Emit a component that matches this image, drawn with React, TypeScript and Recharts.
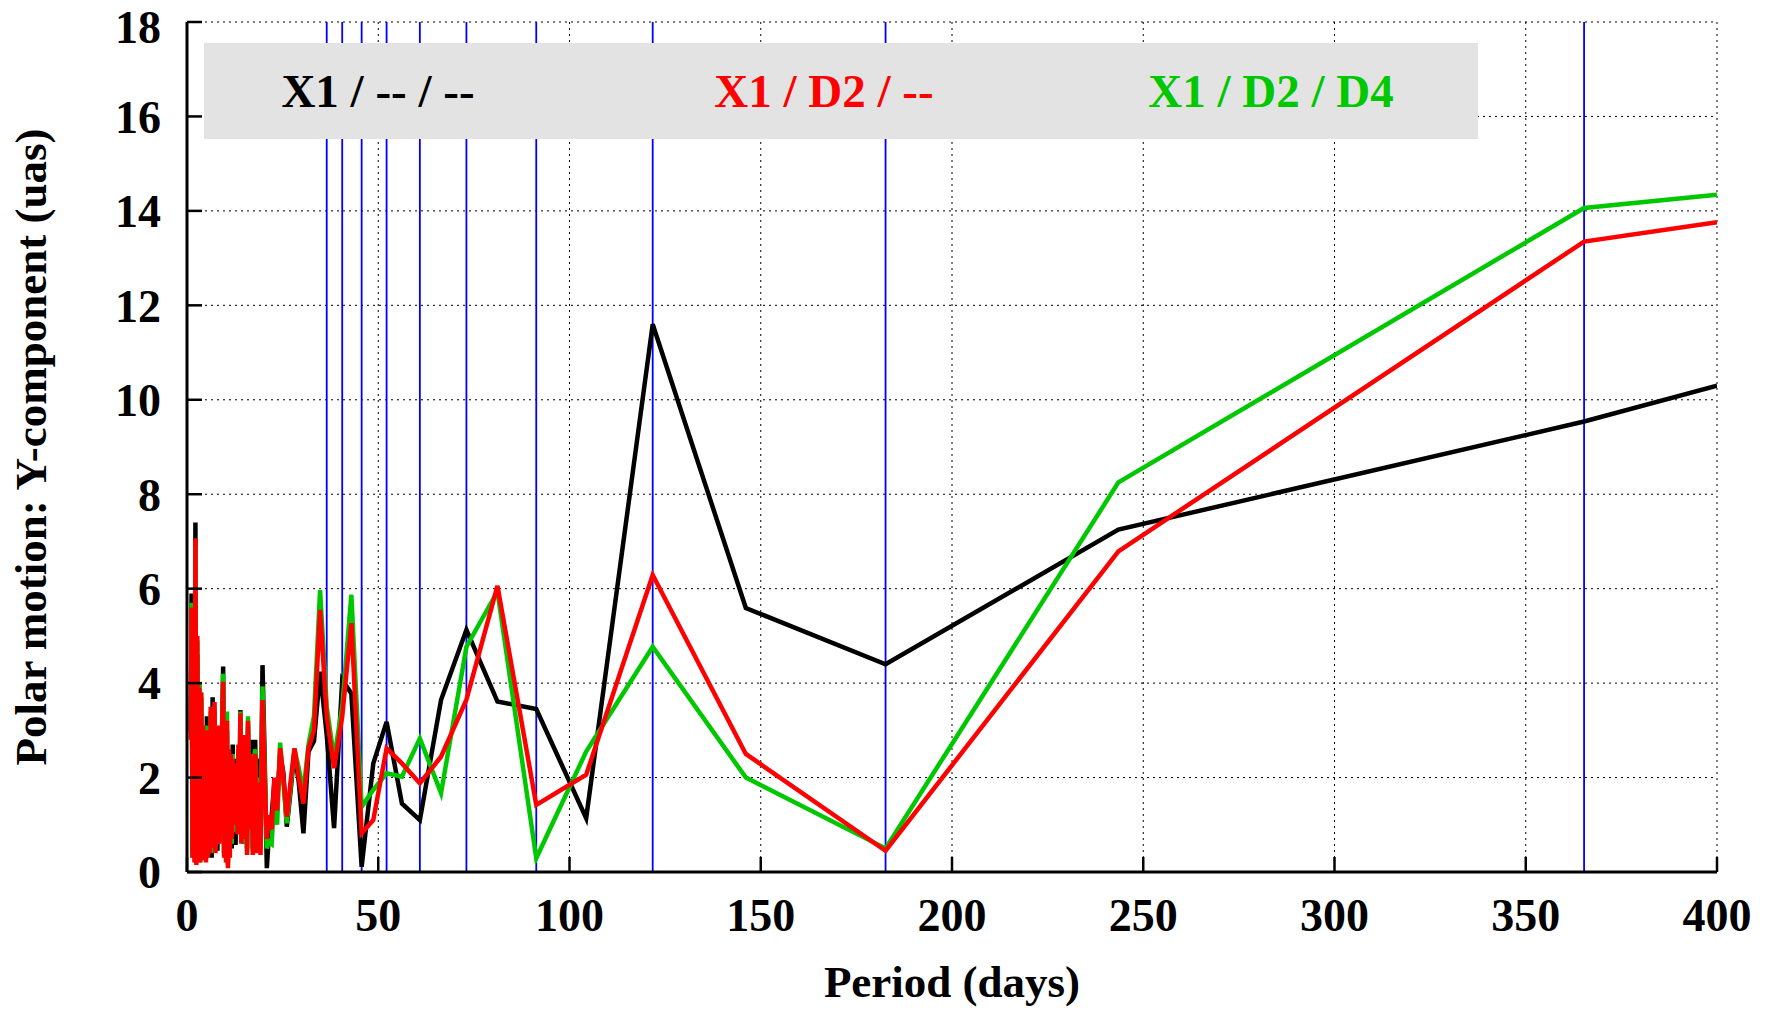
import { CartesianGrid, Label, Legend, Line, LineChart, ReferenceLine, XAxis, YAxis } from "recharts";

// periods (days) of the analysed terms
const periods = [
  1.0, 1.2, 1.45, 1.7, 1.95, 2.2, 2.45, 2.7, 2.95, 3.2, 3.45, 3.7, 3.95, 4.2, 4.45, 4.7, 4.95,
  5.2, 5.45, 5.7, 5.95, 6.2, 6.45, 6.7, 6.95, 7.2, 7.45, 7.7, 7.95, 8.2, 8.45, 8.7, 8.95,
  9.2, 9.45, 9.7, 9.95, 10.2, 10.45, 10.7, 10.95, 11.2, 11.45, 11.7, 11.95, 12.2, 12.45, 12.7, 12.95,
  13.2, 13.45, 13.7, 13.95, 14.2, 14.45, 14.7, 14.95, 15.2, 15.45, 15.7, 15.95, 16.2, 16.45, 16.7, 16.95,
  17.2, 17.45, 17.82, 18.26, 18.73, 19.22, 19.74, 20.29, 20.87, 21.49, 22.14, 22.83, 23.56, 24.35,
  25.19, 26.09, 27.06, 28.1, 29.22, 30.44, 31.76, 33.2, 34.79, 36.53, 38.45, 40.58, 42.97, 45.66,
  48.7, 52.18, 56.19, 60.88, 66.41, 73.05, 81.17, 91.31, 104.36, 121.75, 146.1, 182.63, 243.5, 365.25, 400,
];

// X1 / -- / --
const x1Amp = [
  3.0, 5.9, 0.4, 4.2, 0.3, 7.4, 0.2, 4.6, 0.25, 4.0, 0.3, 3.7, 0.3, 3.0, 0.5, 2.6, 0.3,
  3.3, 0.4, 2.2, 0.6, 3.3, 0.3, 3.7, 0.5, 3.4, 0.6, 2.6, 0.45, 2.9, 0.9, 2.2, 0.7,
  3.0, 4.35, 0.4, 2.4, 0.5, 3.0, 0.2, 2.4, 0.6, 2.2, 0.5, 2.7, 1.1, 2.4, 0.57, 2.0,
  1.0, 2.5, 0.8, 3.43, 0.8, 2.4, 0.6, 2.9, 1.5, 2.5, 0.5, 3.1, 1.4, 2.3, 1.5, 2.8,
  0.5, 2.0, 2.8, 0.6, 2.4, 0.7, 4.38, 2.5, 0.08, 0.9, 1.2, 1.9, 1.5, 2.5,
  2.1, 0.96, 1.7, 2.55, 1.9, 0.82, 2.55, 2.77, 4.24, 2.9, 0.93, 4.07, 3.78, 0.11,
  2.3, 3.18, 1.45, 1.1, 3.64, 5.13, 3.61, 3.45, 1.14, 11.6, 5.59, 4.4, 7.25, 9.54, 10.3,
];

// X1 / D2 / --
const d2Amp = [
  2.8, 5.6, 0.3, 4.0, 0.2, 7.07, 0.15, 5.0, 0.2, 3.9, 0.2, 3.8, 0.25, 3.1, 0.3, 2.8, 0.2,
  3.0, 0.3, 2.5, 0.4, 3.5, 0.5, 3.3, 0.7, 3.6, 0.4, 2.9, 0.7, 3.1, 0.6, 2.5, 0.9,
  3.2, 4.03, 0.3, 2.7, 0.2, 3.2, 0.08, 2.6, 0.3, 2.5, 0.7, 2.4, 1.0, 2.3, 1.0, 2.2,
  0.8, 2.7, 1.0, 3.36, 0.6, 2.6, 0.7, 2.9, 1.2, 2.7, 0.36, 3.2, 1.0, 2.5, 0.9, 2.4,
  0.36, 2.3, 2.5, 0.4, 1.9, 0.36, 3.64, 2.0, 0.7, 1.2, 0.9, 2.0, 1.3, 2.62,
  2.0, 1.17, 1.9, 2.62, 2.0, 1.45, 2.62, 3.0, 5.55, 3.3, 2.2, 3.29, 5.27, 0.82,
  1.1, 2.62, 2.3, 1.88, 2.44, 3.65, 6.06, 1.42, 2.06, 6.29, 2.5, 0.45, 6.79, 13.35, 13.76,
];

// X1 / D2 / D4
const d4Amp = [
  2.9, 5.7, 0.3, 4.1, 0.3, 6.9, 0.2, 4.9, 0.3, 4.0, 0.2, 3.8, 0.3, 3.0, 0.4, 2.7, 0.25,
  3.1, 0.3, 2.4, 0.5, 3.4, 0.4, 3.4, 0.6, 3.5, 0.5, 2.7, 0.6, 3.0, 0.7, 2.4, 0.8,
  3.1, 4.2, 0.35, 2.6, 0.3, 3.4, 0.15, 2.5, 0.5, 2.3, 0.6, 2.5, 1.2, 2.2, 0.85, 2.1,
  0.9, 2.6, 0.9, 3.4, 0.7, 2.5, 0.6, 2.9, 1.3, 2.6, 0.45, 3.3, 1.2, 2.4, 1.0, 2.5,
  0.45, 2.2, 2.6, 0.5, 2.0, 0.5, 3.93, 2.2, 0.5, 0.65, 0.6, 1.6, 1.0, 2.74,
  1.9, 1.03, 1.8, 2.6, 2.2, 1.7, 2.7, 3.3, 5.97, 3.5, 2.4, 3.5, 5.87, 1.38,
  1.74, 2.09, 2.02, 2.83, 1.67, 4.77, 5.94, 0.29, 2.55, 4.77, 2.0, 0.5, 8.25, 14.06, 14.34,
];

// blue markers: annual harmonics
const harmonicPeriods = [365.25, 182.63, 121.75, 91.31, 73.05, 60.88, 52.18, 45.66, 40.58, 36.53];

const xTicks = [0, 50, 100, 150, 200, 250, 300, 350, 400];
const yTicks = [0, 2, 4, 6, 8, 10, 12, 14, 16, 18];

const series = [
  { key: "x1", name: "X1 / -- / --", color: "#000000" },
  { key: "d2", name: "X1 / D2 / --", color: "#ff0000" },
  { key: "d4", name: "X1 / D2 / D4", color: "#00c800" },
];

const data = periods.map((p, i) => ({ period: p, x1: x1Amp[i], d2: d2Amp[i], d4: d4Amp[i] }));

const font = "'Liberation Serif', 'Times New Roman', serif";
const tickStyle = { fill: "#000", fontSize: 46, fontWeight: "bold", fontFamily: font };

// y tick label; the top one is nudged so it stays inside the page
function YTick({ x, y, payload }: any) {
  const ty = Math.max(y, 27);
  return (
    <text x={x} y={ty} dy="0.355em" textAnchor="end" fontSize={46} fontWeight="bold" fontFamily={font} fill="#000">
      {payload.value}
    </text>
  );
}

function XTitle({ viewBox }: any) {
  const x = viewBox.x + viewBox.width / 2;
  const y = viewBox.y + 125;
  return (
    <text x={x} y={y} textAnchor="middle" fontSize={45} fontWeight="bold" fontFamily={font} fill="#000">
      Period (days)
    </text>
  );
}

function YTitle({ viewBox }: any) {
  const x = viewBox.x + 46;
  const y = viewBox.y + viewBox.height / 2;
  return (
    <text
      x={x}
      y={y}
      transform={`rotate(-90 ${x} ${y})`}
      textAnchor="middle"
      fontSize={45}
      fontWeight="bold"
      fontFamily={font}
      fill="#000"
    >
      Polar motion: Y-component (uas)
    </text>
  );
}

function LegendBox() {
  const centers = [174, 620, 1067];
  return (
    <svg width={1274} height={96} style={{ display: "block", background: "#e3e3e3" }}>
      {series.map((s, i) => (
        <text
          key={s.key}
          x={centers[i]}
          y={64}
          textAnchor="middle"
          fontSize={47}
          fontWeight="bold"
          fontFamily={font}
          fill={s.color}
        >
          {s.name}
        </text>
      ))}
    </svg>
  );
}

export default function App() {
  return (
    <div style={{ position: "absolute", left: 0, top: 0, width: 1775, height: 1010, background: "#fff" }}>
      <LineChart width={1775} height={1010} data={data} margin={{ top: 22, right: 58, bottom: 0, left: 0 }}>
        <CartesianGrid stroke="#000" strokeDasharray="2 4" strokeWidth={1} />
        <XAxis
          dataKey="period"
          type="number"
          domain={[0, 400]}
          ticks={xTicks}
          interval={0}
          allowDataOverflow
          height={138}
          tickSize={-15}
          tickMargin={41}
          axisLine={{ stroke: "#000", strokeWidth: 3 }}
          tickLine={{ stroke: "#000", strokeWidth: 2.5 }}
          tick={tickStyle}
        >
          <Label content={XTitle} />
        </XAxis>
        <XAxis
          xAxisId="top"
          orientation="top"
          type="number"
          domain={[0, 400]}
          ticks={xTicks}
          interval={0}
          height={0}
          tickSize={-15}
          tickFormatter={() => ""}
          axisLine={{ stroke: "#000", strokeWidth: 3 }}
          tickLine={{ stroke: "#000", strokeWidth: 2.5 }}
        />
        <YAxis
          type="number"
          domain={[0, 18]}
          ticks={yTicks}
          interval={0}
          width={187}
          tickSize={-15}
          tickMargin={41}
          axisLine={{ stroke: "#000", strokeWidth: 3 }}
          tickLine={{ stroke: "#000", strokeWidth: 2.5 }}
          tick={<YTick />}
        >
          <Label content={YTitle} />
        </YAxis>
        <YAxis
          yAxisId="right"
          orientation="right"
          type="number"
          domain={[0, 18]}
          ticks={yTicks}
          interval={0}
          width={0}
          tickSize={-15}
          tickFormatter={() => ""}
          axisLine={{ stroke: "#000", strokeWidth: 3 }}
          tickLine={{ stroke: "#000", strokeWidth: 2.5 }}
        />
        {harmonicPeriods.map((p) => (
          <ReferenceLine key={p} x={p} stroke="#0000ff" strokeWidth={1.8} />
        ))}
        <Line type="linear" dataKey="x1" name="X1 / -- / --" stroke="#000000" strokeWidth={4.5} dot={false} isAnimationActive={false} />
        <Line type="linear" dataKey="d4" name="X1 / D2 / D4" stroke="#00c800" strokeWidth={4.5} dot={false} isAnimationActive={false} />
        <Line type="linear" dataKey="d2" name="X1 / D2 / --" stroke="#ff0000" strokeWidth={4.5} dot={false} isAnimationActive={false} />
        <Legend
          layout="horizontal"
          verticalAlign="middle"
          align="center"
          wrapperStyle={{ left: 204, top: 43, width: 1274, height: 96 }}
          content={LegendBox}
        />
      </LineChart>
    </div>
  );
}
